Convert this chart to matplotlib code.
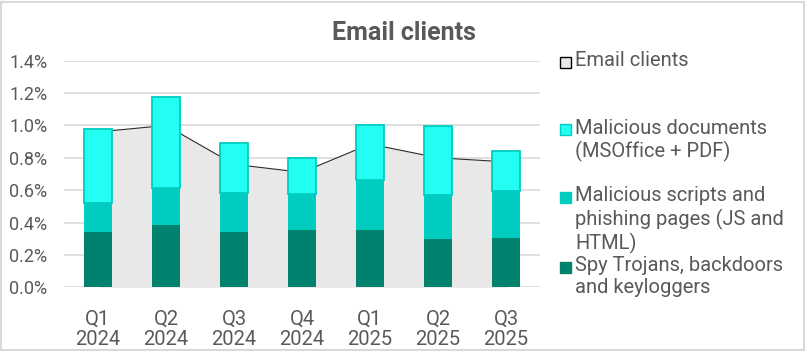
import numpy as np
import matplotlib
matplotlib.use('Agg')
import matplotlib.pyplot as plt
from matplotlib.patches import Rectangle

plt.rcParams['font.family'] = ['Roboto', 'DejaVu Sans']

# Data (values in %)
quarters = ['Q1\n2024', 'Q2\n2024', 'Q3\n2024', 'Q4\n2024', 'Q1\n2025', 'Q2\n2025', 'Q3\n2025']
email_clients = [0.96, 1.00, 0.76, 0.71, 0.885, 0.80, 0.775]
spy_trojans = [0.34, 0.385, 0.34, 0.355, 0.355, 0.30, 0.305]
mal_scripts = [0.18, 0.23, 0.24, 0.22, 0.31, 0.27, 0.29]
mal_docs = [0.455, 0.56, 0.31, 0.225, 0.335, 0.425, 0.245]

labels = ['Email clients',
          'Malicious documents\n(MSOffice + PDF)',
          'Malicious scripts and\nphishing pages (JS and\nHTML)',
          'Spy Trojans, backdoors\nand keyloggers']

text_col = '#595959'
grid_col = '#D9D9D9'
c_dark = '#00826E'
c_mid = '#00CCBF'
c_light = '#22FFF2'
c_area = '#E8E8E8'

W, H = 806, 351
fig = plt.figure(figsize=(W / 100, H / 100), dpi=100)
ax = fig.add_axes([64 / W, 1 - 287.3 / H, (540 - 64) / W, (287.3 - 60.7) / H])

x = np.arange(len(quarters))
spy = np.array(spy_trojans)
scr = np.array(mal_scripts)
doc = np.array(mal_docs)

# area series behind the bars
ax.fill_between(x, email_clients, color=c_area, zorder=1, linewidth=0)
ax.plot(x, email_clients, color='#2a2a2a', lw=0.8, zorder=1.5)

w = 0.4
ax.bar(x, spy, w, color=c_dark, zorder=2)
ax.bar(x, scr, w, bottom=spy, color=c_mid, zorder=2)
ax.bar(x, doc, w, bottom=spy + scr, color=c_light, edgecolor=c_mid, linewidth=1.3, zorder=3)

ax.set_xlim(-0.5, 6.5)
ax.set_ylim(0, 1.4)
yt = np.arange(0, 1.41, 0.2)
ax.set_yticks(yt)
ax.set_yticklabels([f'{v:.1f}%' for v in yt])
ax.set_xticks(x)
ax.set_xticklabels(quarters, linespacing=1.13)
ax.yaxis.grid(True, color=grid_col, lw=1.2, zorder=0)
ax.set_axisbelow(True)
for s in ax.spines.values():
    s.set_visible(False)
ax.tick_params(length=0, colors=text_col)
ax.tick_params(axis='y', pad=12, labelsize=13)
ax.tick_params(axis='x', pad=16, labelsize=14.5)

fig.text(403.5 / W, 1 - 40.5 / H, 'Email clients', ha='center', va='baseline',
         fontsize=18, fontweight='bold', color=text_col)

# legend, laid out like the reference
legend_items = [
    (c_area, '#000000', labels[0], 61.7),
    (c_light, c_mid, labels[1], 129.3),
    (c_mid, c_mid, labels[2], 196.7),
    (c_dark, c_dark, labels[3], 266.7),
]
for face, edge, lab, yc in legend_items:
    fig.patches.append(Rectangle((560 / W, 1 - (yc + 6) / H), 11 / W, 11 / H,
                                 transform=fig.transFigure, facecolor=face,
                                 edgecolor=edge, linewidth=1.0))
    fig.text(575 / W, 1 - (yc - 10.5) / H, lab, ha='left', va='top', fontsize=14.5,
             color=text_col, linespacing=1.2)

fig.patches.append(Rectangle((1.2 / W, 1.2 / H), (W - 3.2) / W, (H - 3.2) / H,
                             transform=fig.transFigure, facecolor='none',
                             edgecolor=grid_col, linewidth=1.5))

fig.savefig('out.png', dpi=100)
